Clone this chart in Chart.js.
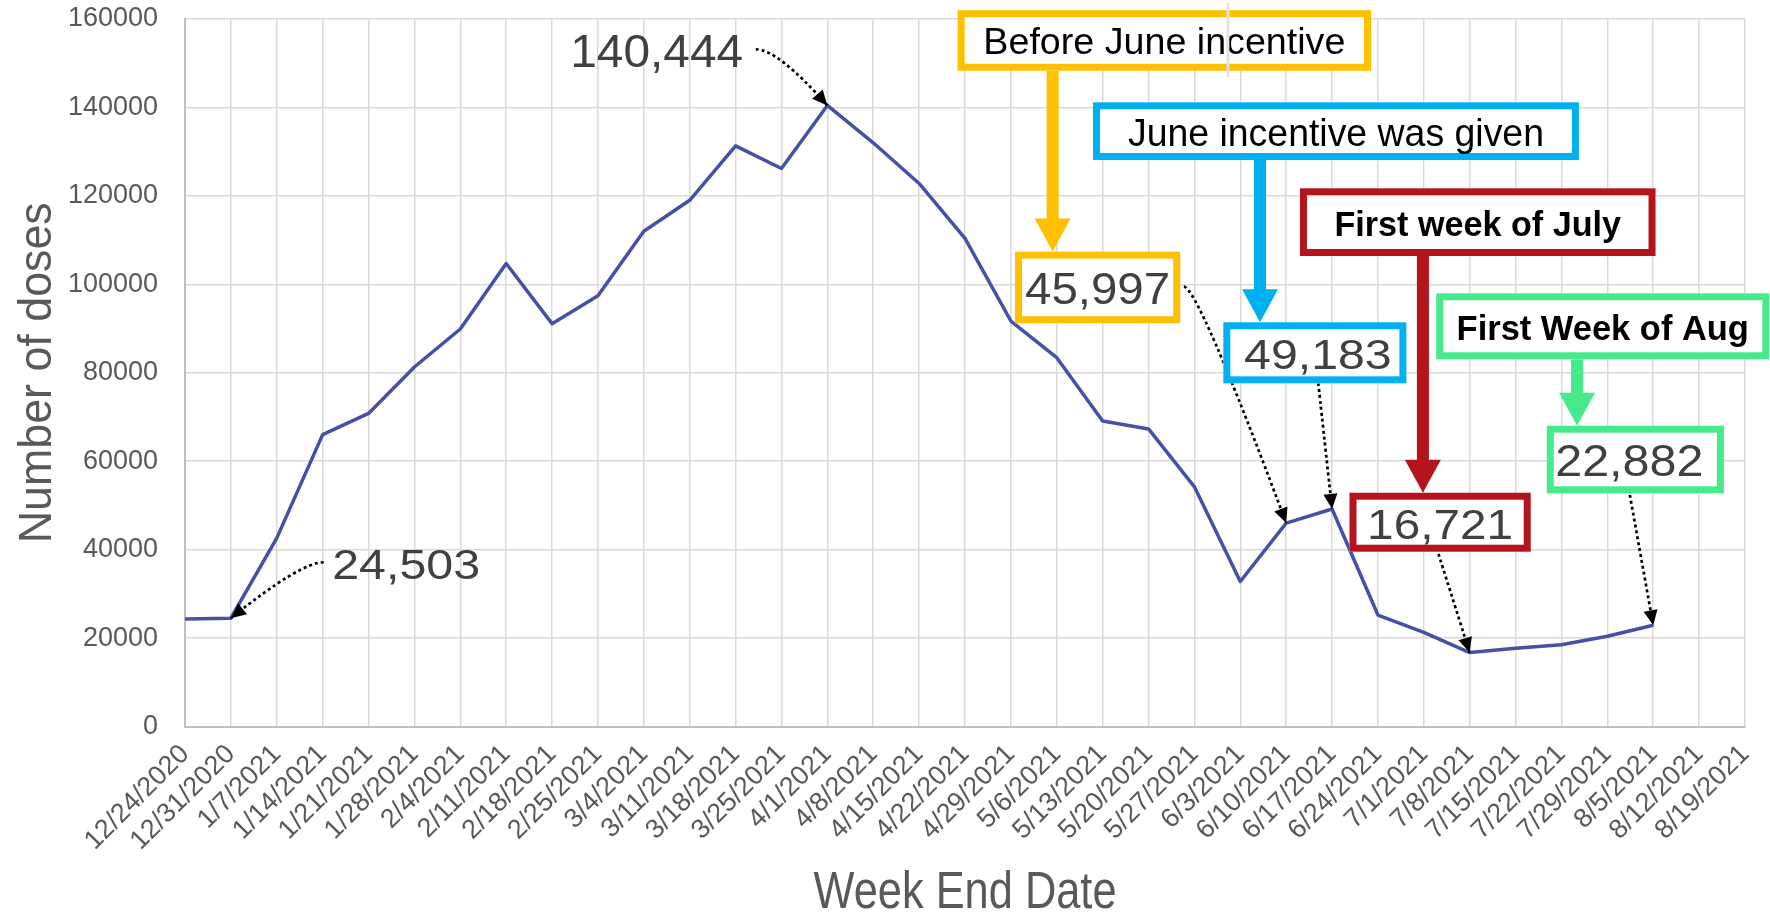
<!DOCTYPE html>
<html>
<head>
<meta charset="utf-8">
<title>Weekly doses</title>
<script src="https://cdn.jsdelivr.net/npm/chart.js@4.4.1/dist/chart.umd.min.js"></script>
<style>
  html, body { margin: 0; padding: 0; background: #fff; }
  .chart-container { position: relative; width: 1770px; height: 915px; }
</style>
</head>
<body>
<div class="chart-container"><canvas id="dosesChart"></canvas></div>
<script>
  const weekLabels = [
    "12/24/2020", "12/31/2020", "1/7/2021", "1/14/2021", "1/21/2021", "1/28/2021",
    "2/4/2021", "2/11/2021", "2/18/2021", "2/25/2021", "3/4/2021", "3/11/2021",
    "3/18/2021", "3/25/2021", "4/1/2021", "4/8/2021", "4/15/2021", "4/22/2021",
    "4/29/2021", "5/6/2021", "5/13/2021", "5/20/2021", "5/27/2021", "6/3/2021",
    "6/10/2021", "6/17/2021", "6/24/2021", "7/1/2021", "7/8/2021", "7/15/2021",
    "7/22/2021", "7/29/2021", "8/5/2021", "8/12/2021", "8/19/2021"
  ];

  const doses = [
    24300, 24503, 42600, 66000, 70800, 81300,
    89900, 104700, 91100, 97400, 112000, 119000,
    131300, 126200, 140444, 132000, 122800, 110400,
    91700, 83400, 69100, 67300, 54200, 32800,
    45997, 49183, 25200, 21300, 16721, 17700,
    18500, 20400, 22882, null, null
  ];

  const yMin = 0;
  const yMax = 160000;
  const yStep = 20000;

  // labels with a dotted pointer: position in (category index, value)
  const plainNotes = [
    { idx: 14, at: [10.28, 153020], capH: 33.7, width: 173, from: [12.44, 153150], lead: 22 },
    { idx: 1, at: [4.82, 36820], capH: 30.7, width: 148, from: [3.02, 37130], lead: -23 }
  ];

  // boxed notes: title box -> thick arrow -> value box -> dotted pointer
  const boxedNotes = [
    { idx: 24, title: "Before June incentive", color: "#FFC000", bold: false,
      titleBox: [16.84, 162000, 25.85, 148300], titleW: 362, titleCap: 26,
      valueBox: [18.09, 107400, 21.69, 91200], valueW: 145, valueCap: 31.7, valueDx: 0,
      arrowAt: 18.91, from: [21.77, 99460], lead: 14 },
    { idx: 25, title: "June incentive was given", color: "#00B0F0", bold: false,
      titleBox: [19.79, 141160, 30.38, 128110], titleW: 416, titleCap: 27.4,
      valueBox: [22.63, 91410, 26.62, 77610], valueW: 147.5, valueCap: 30, valueDx: 3,
      arrowAt: 23.43, from: [24.70, 77610], lead: 0 },
    { idx: 28, title: "First week of July", color: "#B4141B", bold: true,
      titleBox: [24.30, 121710, 32.05, 106400], titleW: 286.7, titleCap: 25,
      valueBox: [25.38, 52870, 29.33, 39530], valueW: 146, valueCap: 31, valueDx: 0,
      arrowAt: 26.98, from: [27.32, 39010], lead: 0 },
    { idx: 32, title: "First Week of Aug", color: "#46EA8A", bold: true,
      titleBox: [27.27, 97970, 34.53, 83040], titleW: 292.3, titleCap: 25,
      valueBox: [29.68, 68030, 33.54, 52740], valueW: 148.3, valueCap: 31.7, valueDx: -6,
      arrowAt: 30.34, from: [31.49, 52350], lead: 0 }
  ];

  const fmt = (v) => v.toLocaleString("en-US");

  // draw text squeezed/stretched to a given width, cap height given
  function fitText(ctx, str, cx, baseline, capH, width, color, bold) {
    const size = capH / 0.716;
    ctx.save();
    ctx.font = (bold ? "bold " : "") + size + 'px "Liberation Sans", Arial, sans-serif';
    const w = ctx.measureText(str).width;
    ctx.translate(cx, baseline);
    ctx.scale(width / w, 1);
    ctx.textAlign = "center";
    ctx.textBaseline = "alphabetic";
    ctx.fillStyle = color;
    ctx.fillText(str, 0, 0);
    ctx.restore();
  }

  function pointer(ctx, sx, sy, lead, tx, ty) {
    const cx = sx + lead;
    const cy = sy;
    ctx.save();
    ctx.strokeStyle = "#000";
    ctx.lineWidth = 2.7;
    ctx.setLineDash([3, 3]);
    ctx.beginPath();
    ctx.moveTo(sx, sy);
    ctx.quadraticCurveTo(cx, cy, tx, ty);
    ctx.stroke();
    ctx.setLineDash([]);
    const ang = Math.atan2(ty - cy, tx - cx);
    const len = 15, half = 7;
    ctx.fillStyle = "#000";
    ctx.beginPath();
    ctx.moveTo(tx, ty);
    ctx.lineTo(tx - len * Math.cos(ang) + half * Math.sin(ang), ty - len * Math.sin(ang) - half * Math.cos(ang));
    ctx.lineTo(tx - len * Math.cos(ang) - half * Math.sin(ang), ty - len * Math.sin(ang) + half * Math.cos(ang));
    ctx.closePath();
    ctx.fill();
    ctx.restore();
  }

  function fatArrow(ctx, x, y1, y2, color) {
    const stem = 6, head = 18, headLen = 33;
    ctx.save();
    ctx.fillStyle = color;
    ctx.beginPath();
    ctx.moveTo(x - stem, y1);
    ctx.lineTo(x + stem, y1);
    ctx.lineTo(x + stem, y2 - headLen);
    ctx.lineTo(x + head, y2 - headLen);
    ctx.lineTo(x, y2);
    ctx.lineTo(x - head, y2 - headLen);
    ctx.lineTo(x - stem, y2 - headLen);
    ctx.closePath();
    ctx.fill();
    ctx.restore();
  }

  function frame(ctx, r, color) {
    const bw = 7;
    ctx.save();
    ctx.fillStyle = "#fff";
    ctx.fillRect(r.x1, r.y1, r.x2 - r.x1, r.y2 - r.y1);
    ctx.strokeStyle = color;
    ctx.lineWidth = bw;
    ctx.strokeRect(r.x1 + bw / 2, r.y1 + bw / 2, r.x2 - r.x1 - bw, r.y2 - r.y1 - bw);
    ctx.restore();
  }

  const calloutPlugin = {
    id: "callouts",
    afterDraw(chart) {
      const ctx = chart.ctx;
      const xs = chart.scales.x;
      const ys = chart.scales.y;
      const area = chart.chartArea;
      const px = (i) => xs.getPixelForValue(i);
      const py = (v) => ys.getPixelForValue(v);
      const pts = chart.getDatasetMeta(0).data;
      const rect = (b) => ({ x1: px(b[0]), y1: py(b[1]), x2: px(b[2]), y2: py(b[3]) });

      // axis titles
      fitText(ctx, "Week End Date", (area.left + area.right) / 2, chart.height - 6.7, 36.6, 303, "#595959", false);
      ctx.save();
      ctx.translate(50.5, (area.top + area.bottom) / 2);
      ctx.rotate(-Math.PI / 2);
      fitText(ctx, "Number of doses", 0, 0, 33, 341, "#595959", false);
      ctx.restore();

      plainNotes.forEach((n) => {
        const p = pts[n.idx];
        pointer(ctx, px(n.from[0]), py(n.from[1]), n.lead, p.x, p.y);
        fitText(ctx, fmt(doses[n.idx]), px(n.at[0]), py(n.at[1]) + n.capH / 2, n.capH, n.width, "#404040", false);
      });

      boxedNotes.forEach((n) => {
        const p = pts[n.idx];
        pointer(ctx, px(n.from[0]), py(n.from[1]), n.lead, p.x, p.y);
      });

      boxedNotes.forEach((n) => {
        const t = rect(n.titleBox);
        const v = rect(n.valueBox);
        fatArrow(ctx, px(n.arrowAt), t.y2, v.y1, n.color);
        frame(ctx, t, n.color);
        frame(ctx, v, n.color);
        const tMid = (t.y1 + t.y2) / 2 + 1;
        fitText(ctx, n.title, (t.x1 + t.x2) / 2, tMid + n.titleCap / 2, n.titleCap, n.titleW, "#000", n.bold);
        const vMid = (v.y1 + v.y2) / 2 + 1;
        fitText(ctx, fmt(doses[n.idx]), (v.x1 + v.x2) / 2 + n.valueDx, vMid + n.valueCap / 2, n.valueCap, n.valueW, "#404040", false);
      });

      // faint stray guide seen in the source picture
      ctx.save();
      ctx.strokeStyle = "#E3E3E3";
      ctx.lineWidth = 3;
      ctx.beginPath();
      ctx.moveTo(px(22.73), py(163600));
      ctx.lineTo(px(22.73), py(146900));
      ctx.stroke();
      ctx.restore();
    }
  };

  const ctx = document.getElementById("dosesChart").getContext("2d");

  new Chart(ctx, {
    type: "line",
    data: {
      labels: weekLabels,
      datasets: [
        {
          label: "Doses",
          data: doses,
          borderColor: "#4651A5",
          backgroundColor: "#4651A5",
          borderWidth: 3.5,
          borderJoinStyle: "round",
          pointRadius: 0,
          tension: 0,
          fill: false,
        },
      ],
    },
    options: {
      responsive: true,
      maintainAspectRatio: false,
      animation: false,
      devicePixelRatio: 1,
      layout: { padding: { top: 19, right: 25, bottom: 0, left: 0 } },
      plugins: {
        legend: { display: false },
        tooltip: { enabled: false },
      },
      scales: {
        x: {
          grid: { color: "#D9D9D9", lineWidth: 1.5, drawTicks: false },
          border: { color: "#BFBFBF", width: 2 },
          ticks: {
            autoSkip: false,
            maxRotation: 45,
            minRotation: 45,
            padding: 12,
            labelOffset: 0,
            color: "#595959",
            font: { family: "Liberation Sans", size: 27 },
          },
          afterFit: function (scale) {
            scale.height = 188.5;
            scale.paddingLeft = 0;
            scale.paddingRight = 0;
          },
        },
        y: {
          min: yMin,
          max: yMax,
          grid: { color: "#D9D9D9", lineWidth: 1.5, drawTicks: false },
          border: { color: "#BFBFBF", width: 2 },
          ticks: {
            stepSize: yStep,
            padding: 27,
            color: "#595959",
            font: { family: "Liberation Sans", size: 27 },
            callback: function (value) {
              return String(value);
            },
          },
          afterFit: function (scale) {
            scale.width = 185;
            scale.paddingTop = 0;
            scale.paddingBottom = 0;
          },
        },
      },
    },
    plugins: [calloutPlugin],
  });
</script>
</body>
</html>
